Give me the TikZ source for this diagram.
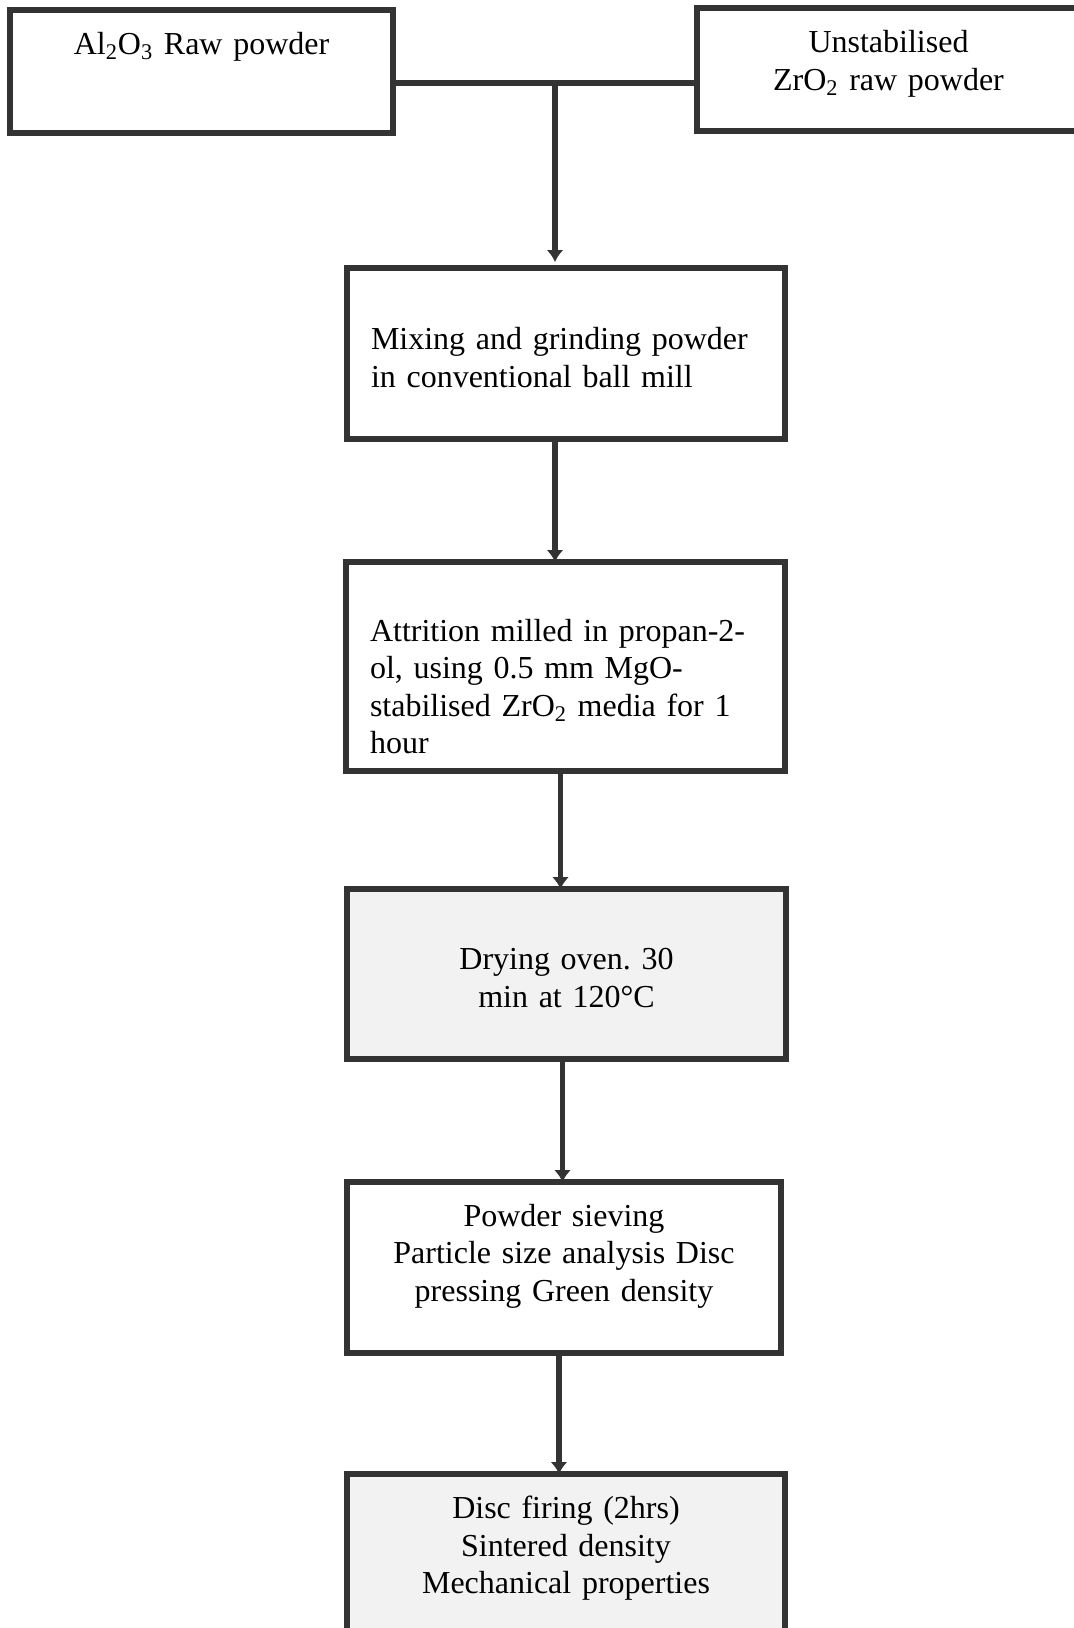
\documentclass[tikz,border=0pt]{standalone}
\usepackage{fontspec}
\setmainfont{Liberation Serif}
\usetikzlibrary{arrows.meta}
\definecolor{ink}{HTML}{333333}

\tikzset{
  stage/.style={draw=ink, line width=2.7pt, rectangle, anchor=north west,
    outer sep=0pt, inner xsep=12pt, inner ysep=0pt,
    font=\fontsize{16}{18.7}\selectfont\frenchspacing},
  link/.style={draw=ink, line width=2.7pt},
}

\begin{document}
\begin{tikzpicture}[x=0.5pt, y=-0.5pt, >={Latex[length=6pt,width=8.5pt]}]
  \useasboundingbox (0,0) rectangle (1073,1628);
  % raw powders
  \node[stage, text width=167.5pt, minimum height=61.5pt, align=center] (al) at (10,10)
    {Al\textsubscript{2}O\textsubscript{3} Raw powder\rule[-28pt]{0pt}{0pt}};
  \node[stage, text width=167.5pt, minimum height=61.5pt, align=center] (zr) at (697,8)
    {Unstabilised\\ ZrO\textsubscript{2} raw powder\rule[-9pt]{0pt}{0pt}};
  % process steps
  \node[stage, text width=195pt, minimum height=85.5pt, align=left] (mix) at (347,268)
    {\rule{0pt}{15pt}Mixing and grinding powder\\ in conventional ball mill};
  \node[stage, text width=195.5pt, minimum height=104.5pt, align=left] (attr) at (346,562)
    {\rule{0pt}{31pt}Attrition milled in propan-2-\\ ol, using 0.5 mm MgO-\\ stabilised ZrO\textsubscript{2} media for 1\\ hour};
  \node[stage, text width=195.5pt, minimum height=85pt, align=center, fill=black!5] (dry) at (347,889)
    {\rule{0pt}{14.5pt}Drying oven. 30\\ min at 120°C};
  \node[stage, text width=193pt, minimum height=85.5pt, align=center] (sieve) at (347,1182)
    {Powder sieving\\ Particle size analysis Disc\\ pressing Green density\rule[-15pt]{0pt}{0pt}};
  \node[stage, text width=195pt, minimum height=85.5pt, align=center, fill=black!5] (fire) at (347,1474)
    {Disc firing (2hrs)\\ Sintered density\\ Mechanical properties\rule[-14.5pt]{0pt}{0pt}};

  % connectors
  \coordinate (j) at (555,83);
  \draw[link] (al.east |- j) -- (zr.west |- j);
  \draw[link, ->, shorten >=3pt] (j) -- (j |- mix.north);
  \draw[link, ->] ([xshift=-5.5pt]mix.south) -- ([xshift=-5.5pt]mix.south |- attr.north);
  \draw[link, ->] ([xshift=-2.5pt]attr.south) -- ([xshift=-2.5pt]attr.south |- dry.north);
  \draw[link, ->] ([xshift=-2pt]dry.south) -- ([xshift=-2pt]dry.south |- sieve.north);
  \draw[link, ->] ([xshift=-2.5pt]sieve.south) -- ([xshift=-2.5pt]sieve.south |- fire.north);
\end{tikzpicture}
\end{document}
